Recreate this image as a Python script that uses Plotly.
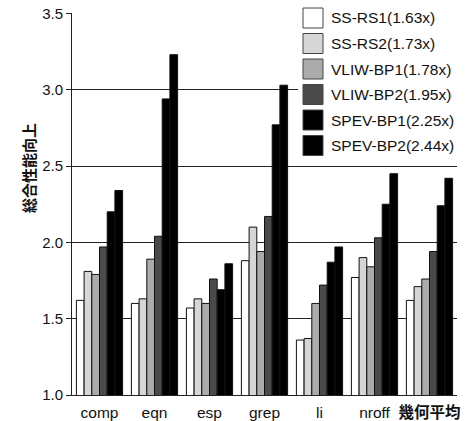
import plotly.graph_objects as go

categories = ["comp", "eqn", "esp", "grep", "li", "nroff", "幾何平均"]
tick_labels = ["comp", "eqn", "esp", "grep", "li", "nroff", "<b>幾何平均</b>"]
series_names = ["SS-RS1(1.63x)", "SS-RS2(1.73x)", "VLIW-BP1(1.78x)",
                "VLIW-BP2(1.95x)", "SPEV-BP1(2.25x)", "SPEV-BP2(2.44x)"]
ss_rs1 = [1.62, 1.60, 1.57, 1.88, 1.36, 1.77, 1.62]
ss_rs2 = [1.81, 1.63, 1.63, 2.10, 1.37, 1.90, 1.71]
vliw_bp1 = [1.79, 1.89, 1.60, 1.94, 1.60, 1.84, 1.76]
vliw_bp2 = [1.97, 2.04, 1.76, 2.17, 1.72, 2.03, 1.94]
spev_bp1 = [2.20, 2.94, 1.69, 2.77, 1.87, 2.25, 2.24]
spev_bp2 = [2.34, 3.23, 1.86, 3.03, 1.97, 2.45, 2.42]
series_values = [ss_rs1, ss_rs2, vliw_bp1, vliw_bp2, spev_bp1, spev_bp2]
y_ticks = [1.0, 1.5, 2.0, 2.5, 3.0, 3.5]

colors = ["#ffffff", "#d6d6d6", "#ababab", "#4a4a4a", "#000000", "#000000"]

W, H = 469, 421
L, R, T, B = 72, 12, 13, 26
pw, ph = W - L - R, H - T - B

def px(x):
    return (x - L) / pw

def py(y):
    return (H - B - y) / ph

fig = go.Figure()
for name, vals, c in zip(series_names, series_values, colors):
    fig.add_trace(go.Bar(
        x=categories, y=vals, name=name,
        marker=dict(color=c, line=dict(color="#111", width=1)),
        showlegend=False,
    ))

shapes = []
annotations = []
shapes.append(dict(type="rect", xref="paper", yref="paper",
                   x0=px(298), x1=px(468), y0=py(158), y1=py(3),
                   fillcolor="white", line=dict(width=0), layer="above"))
for i, (name, c) in enumerate(zip(series_names, colors)):
    cy = 18 + i * 25.5
    shapes.append(dict(type="rect", xref="paper", yref="paper",
                       x0=px(303), x1=px(323), y0=py(cy + 10), y1=py(cy - 10),
                       fillcolor=c, line=dict(color="#444", width=1), layer="above"))
    annotations.append(dict(text=name, xref="paper", yref="paper",
                            x=px(329), y=py(cy), xanchor="left", yanchor="middle",
                            showarrow=False,
                            font=dict(family="Liberation Sans, Arial", size=15.5, color="#111")))

annotations.append(dict(text="<b>総合性能向上</b>", xref="paper", yref="paper",
                        x=px(28), y=py(168), xanchor="center", yanchor="middle",
                        textangle=-90, showarrow=False,
                        font=dict(family="Noto Sans CJK JP", size=15, color="#111")))

fig.update_layout(
    width=W, height=H,
    margin=dict(l=L, r=R, t=T, b=B, pad=0, autoexpand=False),
    paper_bgcolor="white", plot_bgcolor="white",
    barmode="group", bargap=0.16, bargroupgap=0,
    shapes=shapes, annotations=annotations,
    font=dict(family="Liberation Sans, Arial, Noto Sans CJK JP", color="#111"),
)
fig.update_xaxes(
    tickmode="array", tickvals=categories, ticktext=tick_labels,
    showline=True, linecolor="#222", linewidth=1,
    ticks="outside", ticklen=3, tickcolor="rgba(0,0,0,0)",
    showgrid=False, automargin=False,
    tickfont=dict(size=15.5, family="Liberation Sans, Noto Sans CJK JP"),
)
fig.update_yaxes(
    range=[1.0, 3.503], tickvals=y_ticks, ticktext=[f"{v:.1f}" for v in y_ticks],
    showline=True, linecolor="#222", linewidth=1,
    ticks="outside", ticklen=5, tickcolor="#222",
    showgrid=True, gridcolor="#222", gridwidth=1,
    zeroline=False, automargin=False, ticklabeloverflow="allow",
    tickfont=dict(size=15, family="Liberation Sans"),
)

fig.write_html("out.html",
               config={"displayModeBar": False},
               post_script="document.body.style.margin='0';document.body.style.overflow='hidden';")
